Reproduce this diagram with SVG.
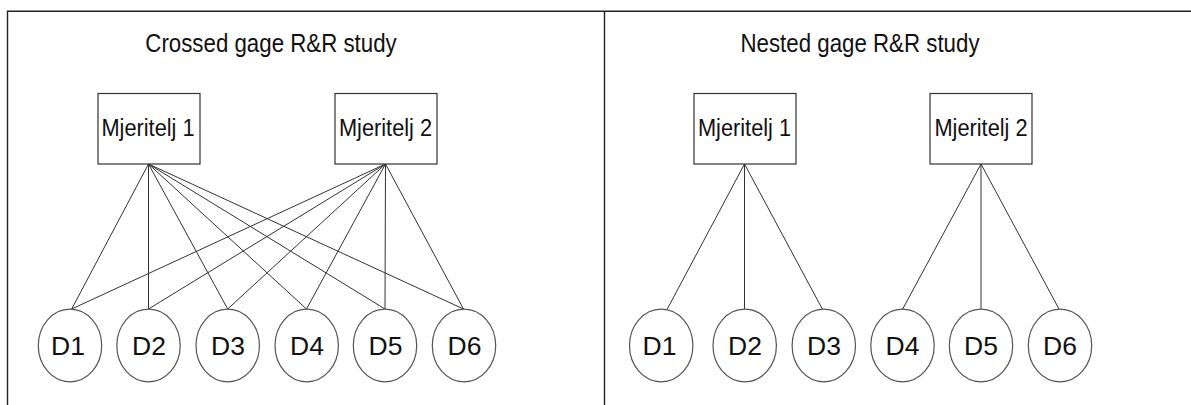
<svg xmlns="http://www.w3.org/2000/svg" width="1191" height="405" viewBox="0 0 1191 405">
<style>
.frame{stroke:#222;stroke-width:1.4;fill:none}
.box{fill:#fff;stroke:#333;stroke-width:1.2}
.circ{fill:#fff;stroke:#555;stroke-width:1.2}
.edge{stroke:#333;stroke-width:1;fill:none}
text{font-family:"Liberation Sans",Arial,sans-serif;fill:#111;text-anchor:middle}
.title{font-size:22.3px}
.lbl{font-size:21.8px}
.d{font-size:26.5px}
</style>
<rect width="1191" height="405" fill="#fff"/>
<g id="frame">
<path class="frame" d="M7.5,405 V11.3 H1191 M604.5,11.3 V405"/>
</g>
<text class="title" transform="translate(271,51.5) scale(1,1.12)">Crossed gage R&amp;R study</text>
<text class="title" transform="translate(860,51.5) scale(1,1.12)">Nested gage R&amp;R study</text>
<g id="connectors">
<path class="edge" d="M148.5,164 L71.7,309 M148.5,164 L148.5,309 M148.5,164 L227.7,309 M148.5,164 L306.5,309 M148.5,164 L385,309 M148.5,164 L463.5,309"/>
<path class="edge" d="M385.5,164 L71.7,309 M385.5,164 L148.5,309 M385.5,164 L227.7,309 M385.5,164 L306.5,309 M385.5,164 L385,309 M385.5,164 L463.5,309"/>
<path class="edge" d="M744.5,164 L667.3,309 M744.5,164 L744.5,309 M744.5,164 L822.3,309"/>
<path class="edge" d="M981,164 L902.7,309 M981,164 L981,309 M981,164 L1059,309"/>
</g>
<g id="c-m1"><rect class="box" x="98" y="93.5" width="102" height="70.5"/><text class="lbl" transform="translate(148,136) scale(1,1.12)">Mjeritelj 1</text></g>
<g id="c-m2"><rect class="box" x="335" y="93.5" width="102" height="70.5"/><text class="lbl" transform="translate(385.5,136) scale(1,1.12)">Mjeritelj 2</text></g>
<g id="c-d1"><ellipse class="circ" cx="70" cy="345.5" rx="31.7" ry="36.3"/><text class="d" x="68" y="355">D1</text></g>
<g id="c-d2"><ellipse class="circ" cx="148.5" cy="345.5" rx="31.7" ry="36.3"/><text class="d" x="149" y="355">D2</text></g>
<g id="c-d3"><ellipse class="circ" cx="227.7" cy="345.5" rx="31.7" ry="36.3"/><text class="d" x="228" y="355">D3</text></g>
<g id="c-d4"><ellipse class="circ" cx="306.7" cy="345.5" rx="31.7" ry="36.3"/><text class="d" x="307" y="355">D4</text></g>
<g id="c-d5"><ellipse class="circ" cx="385" cy="345.5" rx="31.7" ry="36.3"/><text class="d" x="385.5" y="355">D5</text></g>
<g id="c-d6"><ellipse class="circ" cx="464" cy="345.5" rx="31.7" ry="36.3"/><text class="d" x="464.5" y="355">D6</text></g>
<g id="n-m1"><rect class="box" x="694" y="93.5" width="102" height="70.5"/><text class="lbl" transform="translate(744.5,136) scale(1,1.12)">Mjeritelj 1</text></g>
<g id="n-m2"><rect class="box" x="930" y="93.5" width="102" height="70.5"/><text class="lbl" transform="translate(981,136) scale(1,1.12)">Mjeritelj 2</text></g>
<g id="n-d1"><ellipse class="circ" cx="661.2" cy="345.5" rx="31.7" ry="36.3"/><text class="d" x="659.5" y="355">D1</text></g>
<g id="n-d2"><ellipse class="circ" cx="744.7" cy="345.5" rx="31.7" ry="36.3"/><text class="d" x="745" y="355">D2</text></g>
<g id="n-d3"><ellipse class="circ" cx="823.8" cy="345.5" rx="31.7" ry="36.3"/><text class="d" x="824" y="355">D3</text></g>
<g id="n-d4"><ellipse class="circ" cx="902.5" cy="345.5" rx="31.7" ry="36.3"/><text class="d" x="902.5" y="355">D4</text></g>
<g id="n-d5"><ellipse class="circ" cx="981" cy="345.5" rx="31.7" ry="36.3"/><text class="d" x="981" y="355">D5</text></g>
<g id="n-d6"><ellipse class="circ" cx="1060" cy="345.5" rx="31.7" ry="36.3"/><text class="d" x="1060" y="355">D6</text></g>
</svg>
